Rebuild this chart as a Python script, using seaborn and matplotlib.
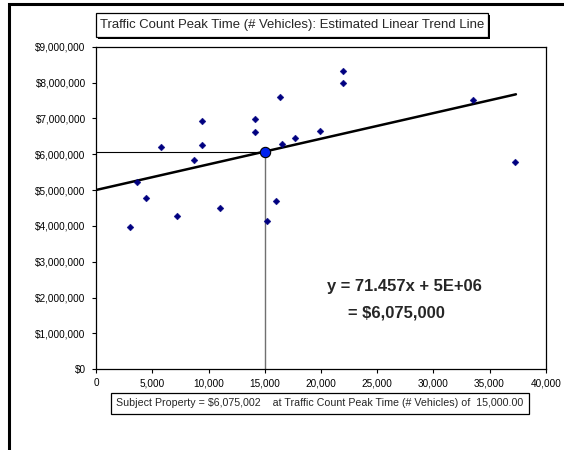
import matplotlib
matplotlib.use("Agg")
import matplotlib.pyplot as plt
import matplotlib.ticker as mticker
from matplotlib.patches import Rectangle
import numpy as np
import pandas as pd
import seaborn as sns

# ---- data ----
traffic = [3050, 3650, 4420, 5760, 7170, 8740, 9450, 9450, 11050, 14120, 14120,
           15210, 15980, 16400, 16490, 17650, 19920, 22000, 22000, 33530, 37280]
price = [3960000, 5220000, 4780000, 6190000, 4290000, 5850000, 6920000, 6250000,
         4510000, 6990000, 6630000, 4130000, 4700000, 7600000, 6290000, 6460000,
         6650000, 8320000, 7990000, 7510000, 5770000]
slope = 71.457
subject_x = 15000
subject_y = 6075002
intercept = subject_y - slope * subject_x
trend_x = [0, 37350]
title_text = "Traffic Count Peak Time (# Vehicles): Estimated Linear Trend Line"
eq_text = "y = 71.457x + 5E+06"
val_text = "= $6,075,000"
footer_text = "Subject Property = $6,075,002    at Traffic Count Peak Time (# Vehicles) of  15,000.00"

sns.set_style("white")
plt.rcParams['font.family'] = ['Liberation Sans', 'DejaVu Sans']

W, H = 564, 450
fig = plt.figure(figsize=(W / 100, H / 100), dpi=100)
ax_l, ax_r, ax_t, ax_b = 96.2, 545.7, 46.7, 369.3
ax = fig.add_axes([ax_l / W, 1 - ax_b / H, (ax_r - ax_l) / W, (ax_b - ax_t) / H])

df = pd.DataFrame({"x": traffic, "y": price})
trend = pd.DataFrame({"x": trend_x, "y": [intercept + slope * v for v in trend_x]})

# reference lines
ax.plot([0, subject_x], [subject_y, subject_y], color="black", lw=0.8, zorder=2)
ax.plot([subject_x, subject_x], [0, subject_y], color="#707070", lw=1.0, zorder=2)

sns.lineplot(data=trend, x="x", y="y", ax=ax, color="black", lw=1.8, zorder=3)
sns.scatterplot(data=df, x="x", y="y", ax=ax, marker="D", s=12, color="#000080",
                edgecolor="#000080", linewidth=0.3, zorder=4)
sns.scatterplot(x=[subject_x], y=[subject_y], ax=ax, s=55, color="#0022ee",
                edgecolor="black", linewidth=0.8, zorder=5)

ax.set_xlim(0, 40000)
ax.set_ylim(0, 9000000)
ax.set_xticks(np.arange(0, 40001, 5000))
ax.set_yticks(np.arange(0, 9000001, 1000000))
ax.xaxis.set_major_formatter(mticker.FuncFormatter(lambda v, p: f"{v:,.0f}"))
ax.yaxis.set_major_formatter(mticker.FuncFormatter(lambda v, p: f"${v:,.0f}"))
ax.set_xlabel("")
ax.set_ylabel("")
ax.tick_params(axis="both", which="major", labelsize=7.2, colors="black",
               direction="out", length=3, width=0.8, left=True, bottom=True)
ax.tick_params(axis="x", pad=3.5)
ax.tick_params(axis="y", pad=4.5)
for s in ax.spines.values():
    s.set_visible(True)
    s.set_color("black")
    s.set_linewidth(0.9)

ax.text(27400, 2310000, eq_text, fontsize=11.9, fontweight="bold", ha="center", va="center")
ax.text(26700, 1570000, val_text, fontsize=11.9, fontweight="bold", ha="center", va="center")

# outer chart border
fig.patches.append(Rectangle((9 / W, -0.1), 1.2, 1 - 4 / H + 0.1, transform=fig.transFigure,
                             fill=False, edgecolor="black", lw=2.2))

def fig_box(x0, y0, x1, y1, shadow=0):
    if shadow:
        fig.patches.append(Rectangle((x0 / W + shadow / W, 1 - (y1 + shadow) / H),
                                     (x1 - x0) / W, (y1 - y0) / H, transform=fig.transFigure,
                                     facecolor="black", edgecolor="none"))
    fig.patches.append(Rectangle((x0 / W, 1 - y1 / H), (x1 - x0) / W, (y1 - y0) / H,
                                 transform=fig.transFigure, facecolor="white",
                                 edgecolor="black", lw=0.9))

# title box with shadow
fig_box(95.5, 13.3, 488, 37, shadow=2)
fig.text(292 / W, 1 - 25.3 / H, title_text, fontsize=9.45, ha="center", va="center")

# footer box
fig_box(110.7, 393, 529.3, 414)
fig.text(320 / W, 1 - 403.5 / H, footer_text, fontsize=7.65, ha="center", va="center")

fig.savefig("out.png", dpi=100)
